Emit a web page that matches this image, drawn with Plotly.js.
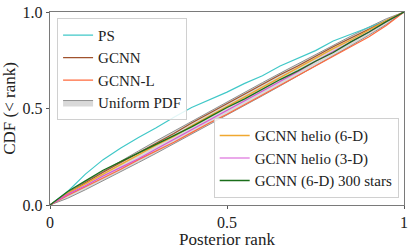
<!DOCTYPE html>
<html><head><meta charset="utf-8">
<script src="https://cdn.plot.ly/plotly-3.0.1.min.js"></script>
<style>html,body{margin:0;padding:0;background:#fff;}#plot{width:415px;height:249px;}</style>
</head><body><div id="plot"></div>
<script>
const rank = [0,0.05,0.1,0.15,0.2,0.25,0.3,0.35,0.4,0.45,0.5,0.55,0.6,0.65,0.7,0.75,0.8,0.85,0.9,0.95,1];
const bandUpper = [0,.065,.121,.175,.228,.280,.332,.383,.434,.485,.535,.585,.634,.683,.732,.780,.828,.875,.921,.965,1];
const bandLower = [0,.035,.079,.125,.172,.220,.268,.317,.366,.415,.465,.515,.566,.617,.668,.720,.772,.825,.879,.935,1];
const ps      = [0,.07,.16,.235,.295,.35,.40,.455,.505,.545,.585,.63,.67,.72,.76,.80,.85,.885,.92,.955,1];
const gcnn    = [0,.06,.115,.17,.22,.27,.32,.37,.425,.475,.525,.575,.625,.675,.72,.77,.82,.865,.91,.955,1];
const gcnnL   = [0,.05,.095,.14,.185,.235,.28,.325,.375,.425,.47,.52,.57,.62,.67,.72,.77,.82,.87,.93,1];
const helio6  = [0,.06,.11,.16,.21,.26,.31,.355,.41,.46,.51,.56,.61,.66,.71,.76,.81,.855,.905,.955,1];
const helio3  = [0,.055,.10,.15,.195,.24,.29,.34,.39,.44,.49,.54,.59,.64,.69,.745,.795,.845,.895,.95,1];
const stars300= [0,.07,.125,.18,.225,.27,.315,.36,.405,.455,.505,.55,.60,.65,.695,.745,.79,.845,.895,.95,1];
const xTicks = [0,0.5,1], xTickText = ['0','0.5','1'];
const yTicks = [0,0.5,1], yTickText = ['0.0','0.5','1.0'];

const font = 'Liberation Serif';
const traces = [
  {x: rank, y: bandLower, mode:'lines', line:{color:'#909090', width:1}, showlegend:false, hoverinfo:'skip'},
  {x: rank, y: bandUpper, mode:'lines', fill:'tonexty', fillcolor:'#d9d9d9', line:{color:'#909090', width:1}, name:'Uniform PDF', legend:'legend', legendrank:4},
  {x: rank, y: ps, mode:'lines', line:{color:'#40c8c8', width:1.2}, name:'PS', legend:'legend', legendrank:1},
  {x: rank, y: gcnn, mode:'lines', line:{color:'#a0522d', width:1.2}, name:'GCNN', legend:'legend', legendrank:2},
  {x: rank, y: gcnnL, mode:'lines', line:{color:'#ff6a3d', width:1.2}, name:'GCNN-L', legend:'legend', legendrank:3},
  {x: rank, y: helio6, mode:'lines', line:{color:'#f0a830', width:1.4}, name:'GCNN helio (6-D)', legend:'legend2'},
  {x: rank, y: helio3, mode:'lines', line:{color:'#d655d6', width:1.2}, name:'GCNN helio (3-D)', legend:'legend2'},
  {x: rank, y: stars300, mode:'lines', line:{color:'#1a6e1a', width:1.3}, name:'GCNN (6-D) 300 stars', legend:'legend2'}
];
const layout = {
  width:415, height:249,
  margin:{l:50, r:11, t:12, b:44},
  paper_bgcolor:'#fff', plot_bgcolor:'#fff',
  font:{family:font, size:15, color:'#222'},
  xaxis:{range:[0,1], tickvals:xTicks, ticktext:xTickText, showgrid:false, zeroline:false,
    showline:true, mirror:true, linecolor:'#7a7a7a', linewidth:1.2, ticks:'outside', ticklen:3, tickcolor:'#555',
    tickfont:{size:16, family:font}, title:{text:'Posterior rank', font:{size:17, family:font}, standoff:3}},
  yaxis:{range:[0,1], tickvals:yTicks, ticktext:yTickText, showgrid:false, zeroline:false,
    showline:true, mirror:true, linecolor:'#7a7a7a', linewidth:1.2, ticks:'outside', ticklen:3, tickcolor:'#555',
    tickfont:{size:16, family:font}, title:{text:'CDF (< rank)', font:{size:17, family:font}, standoff:3}},
  legend:{x:0.02, y:0.97, xanchor:'left', yanchor:'top', bgcolor:'rgba(255,255,255,0.85)', bordercolor:'#d0d0d0', borderwidth:1,
    font:{size:15, family:font}, traceorder:'normal', tracegroupgap:0},
  legend2:{x:0.985, y:0.035, xanchor:'right', yanchor:'bottom', bgcolor:'rgba(255,255,255,0.85)', bordercolor:'#d0d0d0', borderwidth:1,
    font:{size:15, family:font}, traceorder:'normal'},
  showlegend:true
};
Plotly.newPlot('plot', traces, layout, {displayModeBar:false, staticPlot:true});
</script></body></html>
